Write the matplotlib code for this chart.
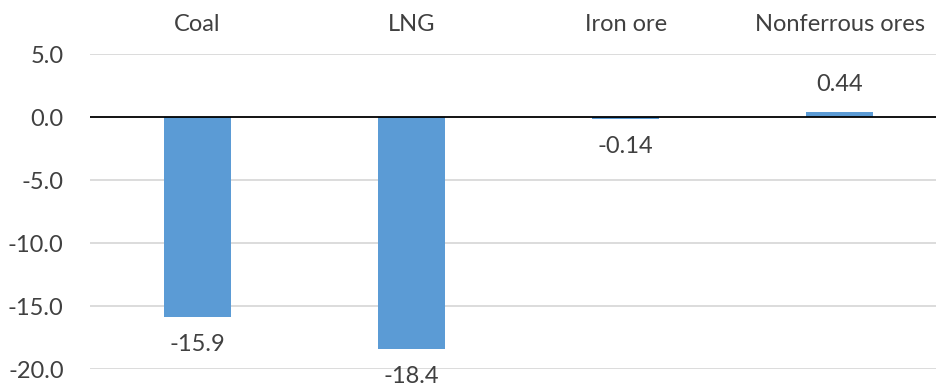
import matplotlib.pyplot as plt
import numpy as np

# Change by commodity
categories = ['Coal', 'LNG', 'Iron ore', 'Nonferrous ores']
values = [-15.9, -18.4, -0.14, 0.44]
value_labels = ['-15.9', '-18.4', '-0.14', '0.44']
y_ticks = [5.0, 0.0, -5.0, -10.0, -15.0, -20.0]

plt.rcParams['font.family'] = ['Lato', 'DejaVu Sans']

BAR_COLOR = '#5B9BD5'
TEXT_COLOR = '#404040'
GRID_COLOR = '#D9D9D9'
FS = 17

fig = plt.figure(figsize = (9.36, 3.84), dpi = 100)
ax = fig.add_axes([0.0962, 0.039, 0.9155, 0.82])

x = np.arange(len(categories))
ax.bar(x, values, width = 0.313, color = BAR_COLOR, zorder = 2)

ax.set_xlim(-0.5, len(categories) - 0.5)
ax.set_ylim(-20, 5)

# Horizontal gridlines, black zero line
for t in y_ticks:
    if t == 0:
        continue
    ax.axhline(t, color = GRID_COLOR, lw = 1.3, zorder = 1)
ax.axhline(0, color = 'black', lw = 1.3, zorder = 3)

ax.set_yticks(y_ticks)
ax.set_yticklabels([f'{t:.1f}' for t in y_ticks])
ax.tick_params(axis = 'y', length = 0, pad = 19, labelsize = FS, labelcolor = TEXT_COLOR)

# Category names above the plot
ax.xaxis.tick_top()
ax.set_xticks(x)
ax.set_xticklabels(categories)
ax.tick_params(axis = 'x', length = 0, pad = 14, labelsize = FS, labelcolor = TEXT_COLOR)

for spine in ax.spines.values():
    spine.set_visible(False)

# Value labels at the end of each bar
for xi, v, lab in zip(x, values, value_labels):
    if v < 0:
        ax.annotate(lab, (xi, v), xytext = (0, -12), textcoords = 'offset points',
                    ha = 'center', va = 'top', fontsize = FS, color = TEXT_COLOR,
                    annotation_clip = False)
    else:
        ax.annotate(lab, (xi, v), xytext = (0, 12), textcoords = 'offset points',
                    ha = 'center', va = 'bottom', fontsize = FS, color = TEXT_COLOR,
                    annotation_clip = False)

fig.savefig('out.png', dpi = 100)
